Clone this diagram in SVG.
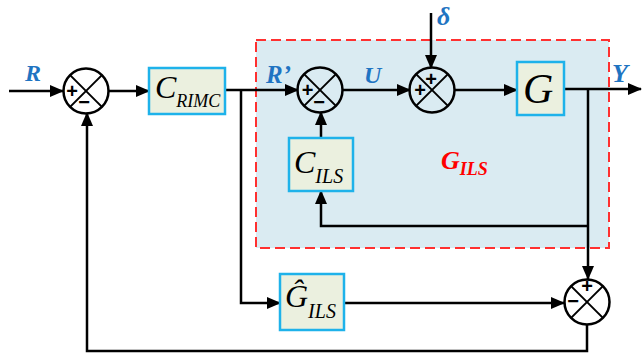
<svg xmlns="http://www.w3.org/2000/svg" width="642" height="356" viewBox="0 0 642 356">
<style>
.ln{fill:none;stroke:#000;stroke-width:2.5}
.sum circle{fill:none;stroke:#000;stroke-width:2.5}
.sum line{stroke:#000;stroke-width:2}
.sg{font-family:"Liberation Sans",Arial,sans-serif;font-weight:bold;font-size:20px;fill:#000;text-anchor:middle}
.blk rect{fill:#EBF0DF;stroke:#1EB2EA;stroke-width:2.5}
.bt{font-family:"Liberation Serif","Times New Roman",serif;font-style:italic;fill:#000}
.lab{font-family:"Liberation Serif","Times New Roman",serif;font-style:italic;font-weight:bold;fill:#1F74C2}
</style>
<defs>
<marker id="ah" markerUnits="userSpaceOnUse" markerWidth="14" markerHeight="12" refX="13" refY="6" orient="auto">
<path d="M0,0 L14,6 L0,12 Z" fill="#000"/>
</marker>
</defs>
<g id="GILS-region">
<rect x="256" y="40" width="353" height="208" fill="#DAEBF2" stroke="#FF3030" stroke-width="2" stroke-dasharray="10,5"/>
<text x="441" y="169" font-family="Liberation Serif,serif" font-style="italic" font-weight="bold" fill="#FF0000" font-size="26">G<tspan font-size="18" dy="6">ILS</tspan></text>
</g>
<g id="connectors">
<path class="ln" d="M9,91 H63" marker-end="url(#ah)"/>
<path class="ln" d="M108,91 H149" marker-end="url(#ah)"/>
<path class="ln" d="M225,90 H298" marker-end="url(#ah)"/>
<path class="ln" d="M241,90 V303 H280" marker-end="url(#ah)"/>
<path class="ln" d="M342,90 H410" marker-end="url(#ah)"/>
<path class="ln" d="M431,13 V68" marker-end="url(#ah)"/>
<path class="ln" d="M454,90 H517" marker-end="url(#ah)"/>
<path class="ln" d="M564,89 H641" marker-end="url(#ah)"/>
<path class="ln" d="M588,89 V279" marker-end="url(#ah)"/>
<path class="ln" d="M588,226 H321 V191" marker-end="url(#ah)"/>
<path class="ln" d="M321,138 V112" marker-end="url(#ah)"/>
<path class="ln" d="M344,303 H564" marker-end="url(#ah)"/>
<path class="ln" d="M587,324 V351 H87 V113" marker-end="url(#ah)"/>
</g>
<g id="sum1" class="sum">
<circle cx="86" cy="91" r="22.5"/>
<line x1="70.1" y1="75.1" x2="101.9" y2="106.9"/><line x1="101.9" y1="75.1" x2="70.1" y2="106.9"/>
<text class="sg" x="72" y="98">+</text><text class="sg" x="84" y="109">−</text>
</g>
<g id="sum2" class="sum">
<circle cx="320" cy="90" r="22.5"/>
<line x1="304.1" y1="74.1" x2="335.9" y2="105.9"/><line x1="335.9" y1="74.1" x2="304.1" y2="105.9"/>
<text class="sg" x="307.5" y="97">+</text><text class="sg" x="319" y="109">−</text>
</g>
<g id="sum3" class="sum">
<circle cx="432" cy="90" r="22.5"/>
<line x1="416.1" y1="74.1" x2="447.9" y2="105.9"/><line x1="447.9" y1="74.1" x2="416.1" y2="105.9"/>
<text class="sg" x="431" y="86">+</text><text class="sg" x="420" y="97">+</text>
</g>
<g id="sum4" class="sum">
<circle cx="587" cy="302" r="22.5"/>
<line x1="571.1" y1="286.1" x2="602.9" y2="317.9"/><line x1="602.9" y1="286.1" x2="571.1" y2="317.9"/>
<text class="sg" x="587" y="293">+</text><text class="sg" x="573" y="308">−</text>
</g>
<g id="C_RIMC" class="blk">
<rect x="149" y="68" width="76" height="46"/>
<text class="bt" x="155" y="98" font-size="32">C<tspan font-size="18" dy="9">RIMC</tspan></text>
</g>
<g id="G" class="blk">
<rect x="517" y="62" width="47" height="53"/>
<text class="bt" x="523" y="103" font-size="42">G</text>
</g>
<g id="C_ILS" class="blk">
<rect x="289" y="138" width="64" height="53"/>
<text class="bt" x="294" y="173" font-size="32">C<tspan font-size="20" dy="10">ILS</tspan></text>
</g>
<g id="Ghat_ILS" class="blk">
<rect x="280" y="274" width="64" height="56"/>
<text class="bt" x="285" y="307" font-size="32">Ĝ<tspan font-size="20" dy="11">ILS</tspan></text>
</g>
<g id="labels">
<text class="lab" x="25" y="81" font-size="24">R</text>
<text class="lab" x="266" y="83" font-size="25">R’</text>
<text class="lab" x="364" y="83" font-size="24">U</text>
<text class="lab" x="437" y="25" font-size="26">δ</text>
<text class="lab" x="612" y="82" font-size="26">Y</text>
</g>
</svg>
